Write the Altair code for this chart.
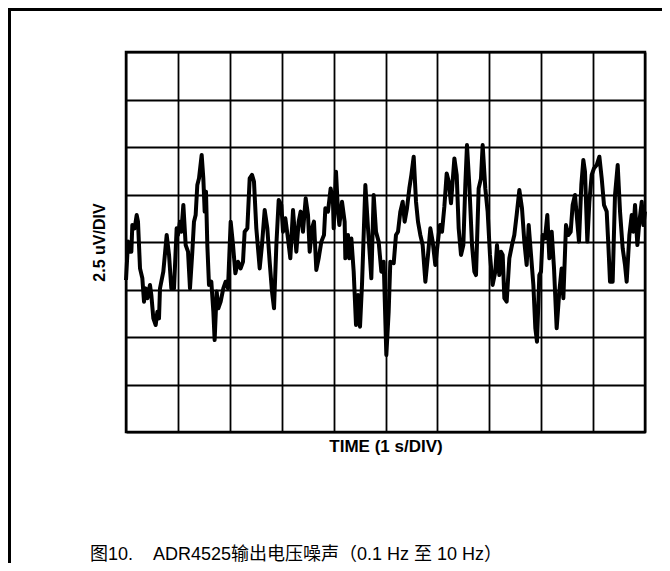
import altair as alt
import pandas as pd

# Noise trace: (time in s, output noise in uV)
seg_0_2s = [(0.0, -2.0), (0.039, 0.02), (0.077, -0.51), (0.103, -0.51), (0.122, 0.89), (0.167, 0.72),
            (0.206, 1.42), (0.231, 1.07), (0.270, -1.39), (0.315, -1.91), (0.347, -3.14), (0.379, -2.44),
            (0.411, -2.96), (0.462, -2.26), (0.488, -2.79), (0.527, -4.02), (0.572, -4.37), (0.604, -3.67),
            (0.636, -4.02), (0.655, -2.44), (0.719, -1.56), (0.784, 0.37), (0.829, -0.68), (0.873, -2.44),
            (0.925, -2.44), (0.976, 0.72), (1.002, 0.37), (1.040, 1.07), (1.066, 0.54), (1.105, 1.95),
            (1.150, -0.16), (1.195, -0.51), (1.233, -2.44), (1.278, -0.51), (1.310, 1.07), (1.342, 1.42),
            (1.374, 3.0), (1.407, 3.35), (1.458, 4.58), (1.490, 3.35), (1.516, 1.6), (1.541, 2.65),
            (1.567, -0.16), (1.599, -2.26), (1.644, -2.09), (1.683, -3.67), (1.708, -5.16), (1.747, -2.61),
            (1.779, -3.49), (1.824, -3.14), (1.875, -2.44), (1.920, -2.09), (1.965, -2.44)]
seg_2_4s = [(2.017, 1.07), (2.062, -0.16), (2.107, -1.65), (2.158, -1.04), (2.209, -1.39), (2.254, -1.04),
            (2.286, 0.54), (2.338, 0.72), (2.383, 3.35), (2.428, 3.53), (2.466, 3.18), (2.511, 0.72),
            (2.576, -1.39), (2.620, -0.16), (2.672, 1.68), (2.723, 0.72), (2.768, -1.04), (2.813, -2.61),
            (2.852, -3.49), (2.897, -0.16), (2.942, 2.21), (2.993, 1.95), (3.025, 0.54), (3.070, 1.25),
            (3.121, 0.19), (3.166, -0.86), (3.218, 1.68), (3.250, 0.54), (3.282, -0.51), (3.327, 1.07),
            (3.365, 1.6), (3.410, 0.54), (3.462, 2.30), (3.507, 1.42), (3.539, -0.51), (3.584, 0.72),
            (3.622, 1.07), (3.667, -1.47), (3.712, -0.86), (3.764, 0.02), (3.815, 0.37), (3.841, 1.77),
            (3.892, 1.6), (3.943, 2.82), (3.988, 2.12)]
seg_4_6s = [(4.001, 0.72), (4.046, 3.70), (4.085, 1.6), (4.111, 0.89), (4.162, 2.12), (4.213, 1.07),
            (4.226, -0.86), (4.277, 0.37), (4.303, -0.86), (4.342, 0.19), (4.387, -1.56), (4.432, -4.37),
            (4.470, -2.79), (4.509, -4.46), (4.547, -2.26), (4.612, 3.0), (4.663, 0.72), (4.689, -0.33),
            (4.727, -1.91), (4.772, 2.47), (4.817, 0.54), (4.868, 0.02), (4.920, -1.56), (4.965, -1.04),
            (5.016, -5.95), (5.061, -3.67), (5.093, -1.04), (5.158, -1.12), (5.202, 0.37), (5.241, 0.54),
            (5.286, 1.6), (5.331, 2.12), (5.369, 1.07), (5.414, 1.77), (5.459, 2.82), (5.498, 3.53),
            (5.543, 4.49), (5.588, 2.12), (5.626, 1.07), (5.671, 0.37), (5.716, -0.16), (5.768, -2.09),
            (5.819, -0.68), (5.864, 0.72), (5.909, 0.02), (5.960, -1.21)]
seg_6_8s = [(6.024, 0.37), (6.050, 0.89), (6.089, 0.54), (6.134, 1.86), (6.179, 3.61), (6.218, 3.18),
            (6.262, 2.04), (6.327, 4.40), (6.372, 3.53), (6.410, 0.72), (6.455, -0.68), (6.500, -0.16),
            (6.538, 3.0), (6.570, 5.1), (6.615, 3.0), (6.667, -0.16), (6.712, -1.56), (6.744, -1.74),
            (6.795, 2.82), (6.840, 3.35), (6.872, 5.1), (6.923, 2.82), (6.968, 1.6), (7.013, -0.68),
            (7.064, -2.26), (7.116, -1.56), (7.148, -0.16), (7.193, -1.74), (7.225, -0.51), (7.258, -0.68),
            (7.290, -2.96), (7.335, -3.14), (7.386, -0.86), (7.437, -0.16), (7.482, 0.37), (7.527, 1.42),
            (7.579, 2.74), (7.630, 1.77), (7.675, 0.02), (7.720, -1.21), (7.759, 0.89), (7.804, -0.68),
            (7.849, -2.26), (7.887, -4.54), (7.919, -5.25), (7.964, -1.74), (7.996, -1.56)]
seg_8_10s = [(8.028, 0.37), (8.073, 0.19), (8.118, 1.42), (8.157, -0.86), (8.202, 0.54), (8.247, -1.39),
             (8.298, -4.54), (8.349, -2.61), (8.394, -1.39), (8.427, -2.96), (8.478, 0.89), (8.523, 0.37),
             (8.568, 0.54), (8.606, 1.95), (8.651, 2.47), (8.684, 1.42), (8.728, 0.02), (8.773, 3.0),
             (8.812, 4.32), (8.844, 3.70), (8.889, 0.02), (8.928, 2.12), (8.973, 3.53), (9.018, 3.88),
             (9.069, 4.05), (9.121, 4.49), (9.166, 3.35), (9.210, 1.95), (9.262, 1.6), (9.294, -0.16),
             (9.326, -2.09), (9.377, -2.09), (9.422, 2.47), (9.474, 4.05), (9.519, 1.6), (9.570, -0.33),
             (9.615, -1.21), (9.647, -2.09), (9.699, 0.37), (9.744, 1.42), (9.776, 0.54), (9.808, 1.95),
             (9.853, -0.16), (9.892, 1.07), (9.937, 2.12), (9.969, 0.89), (10.0, 1.6)]

x_grid = [0, 1, 2, 3, 4, 5, 6, 7, 8, 9, 10]
y_grid = [-10, -7.5, -5, -2.5, 0, 2.5, 5, 7.5, 10]

x_title = "TIME (1 s/DIV)"
y_title = "2.5 uV/DIV"
caption = "图10.\u00a0\u00a0\u00a0\u00a0ADR4525输出电压噪声（0.1 Hz 至 10 Hz）"

rows = seg_0_2s + seg_2_4s + seg_4_6s + seg_6_8s + seg_8_10s
df = pd.DataFrame(rows, columns=["t", "v"])

BOLD_FONT = "'Liberation Sans', Arial, sans-serif"
CAP_FONT = "'Liberation Sans', 'Noto Sans CJK SC', sans-serif"

x_enc = alt.X("t:Q", scale=alt.Scale(domain=[0, 10], nice=False),
              axis=alt.Axis(values=x_grid, labels=False, ticks=False, domain=False, grid=True,
                            title=x_title, titleFont=BOLD_FONT, titleFontSize=17, titleFontWeight="bold",
                            titleColor="black", titlePadding=6))
y_enc = alt.Y("v:Q", scale=alt.Scale(domain=[-10, 10], nice=False),
              axis=alt.Axis(values=y_grid, labels=False, ticks=False, domain=False, grid=True,
                            title=y_title, titleFont=BOLD_FONT, titleFontSize=16, titleFontWeight="bold",
                            titleColor="black", titlePadding=19))

line = alt.Chart(df).mark_line(color="black", strokeWidth=4, strokeJoin="round").encode(x=x_enc, y=y_enc)

cap = alt.Chart(pd.DataFrame({"txt": [caption]})).mark_text(
    align="left", baseline="middle", font=CAP_FONT, fontSize=18, color="black"
).encode(text="txt:N", x=alt.value(-36), y=alt.value(503))

left_border = alt.Chart(pd.DataFrame({"a": [0]})).mark_rect(color="black").encode(
    x=alt.value(-118), x2=alt.value(-115), y=alt.value(-44), y2=alt.value(511))
top_border = alt.Chart(pd.DataFrame({"a": [0]})).mark_rect(color="black").encode(
    x=alt.value(-118), x2=alt.value(536), y=alt.value(-44), y2=alt.value(-41))

chart = alt.layer(line, cap, left_border, top_border).properties(
    width=519, height=380,
    padding={"left": 118, "top": 44, "right": 17, "bottom": 131},
    autosize=alt.AutoSizeParams(type="none"),
    background="white",
).configure_view(stroke="black", strokeWidth=2.5).configure_axis(
    gridColor="black", gridWidth=1.8, gridOpacity=1
)

chart.save("out.html", embed_options={"renderer": "svg", "actions": False})
